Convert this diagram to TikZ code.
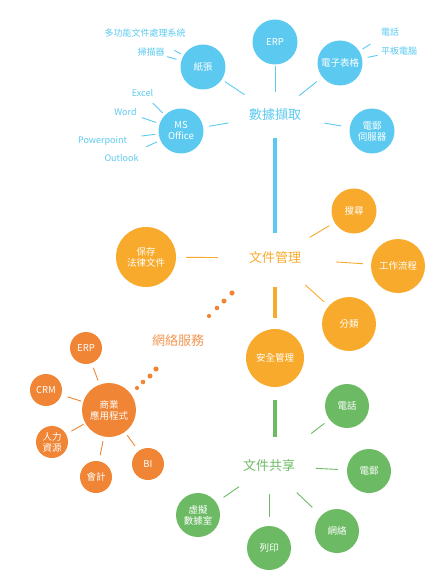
\documentclass[tikz,border=0pt]{standalone}
\usepackage{fontspec}
\setmainfont{Noto Sans CJK TC}
\definecolor{cb}{HTML}{5CCAF0}
\definecolor{co}{HTML}{F8AA2C}
\definecolor{cd}{HTML}{EF8535}
\definecolor{cg}{HTML}{6CBB64}
\begin{document}
\begin{tikzpicture}[x=1pt,y=-1pt,
  circ/.style={circle,inner sep=0pt,text=white,align=center,font=\fontsize{9.5}{11}\selectfont},
  bc/.style={circ,fill=cb,minimum size=45pt},
  oc/.style={circ,fill=co},
  dc/.style={circ,fill=cd},
  gc/.style={circ,fill=cg,minimum size=44pt},
  hub/.style={inner sep=0pt,font=\fontsize{13}{14}\selectfont},
  lab/.style={inner sep=0pt,text=cb,font=\fontsize{9}{10}\selectfont},
  bl/.style={draw=cb,line width=0.9pt},
  ol/.style={draw=co,line width=0.9pt},
  dl/.style={draw=cd,line width=0.9pt},
  gl/.style={draw=cg,line width=0.9pt},
  bar/.style={line width=4pt}]
\useasboundingbox (0,0) rectangle (431,575);
% ---------- blue ----------
\node[hub,text=cb] (dh) at (275,115) {數據擷取};
\node[bc] (erp1) at (275,42) {ERP};
\node[bc] (zz) at (203,67) {紙張};
\node[bc] (ms) at (181,131) {MS\\Office};
\node[bc] (dz) at (340,63) {電子表格};
\node[bc] (dy) at (372,131) {電郵\\伺服器};
\node[lab] (l1) at (145,33) {多功能文件處理系統};
\node[lab] (l2) at (151,52) {掃描器};
\node[lab] (l3) at (142.5,93) {Excel};
\node[lab] (l4) at (125.5,112) {Word};
\node[lab] (l5) at (102.5,141) {Powerpoint};
\node[lab] (l6) at (121.5,158) {Outlook};
\node[lab] (l7) at (390,32) {電話};
\node[lab] (l8) at (399,51) {平板電腦};
\draw[bl,shorten <=1pt,shorten >=23pt] (erp1) -- (dh.center);
\draw[bl,shorten <=3.6pt,shorten >=36.7pt] (zz) -- (dh.center);
\draw[bl,shorten <=5.7pt,shorten >=47pt] (ms) -- (dh.center);
\draw[bl,shorten <=7pt,shorten >=31pt] (dz) -- (dh.center);
\draw[bl,shorten <=8.5pt,shorten >=50pt] (dy) -- (dh.center);
\draw[bl,shorten <=34pt,shorten >=2.8pt] (l1.center) -- (zz);
\draw[bl,shorten <=16.8pt,shorten >=4.9pt] (l2.center) -- (zz);
\draw[bl,shorten <=14.2pt,shorten >=3pt] (l3.center) -- (ms);
\draw[bl,shorten <=17.2pt,shorten >=3.5pt] (l4.center) -- (ms);
\draw[bl,shorten <=39.3pt,shorten >=3.2pt] (l5.center) -- (ms);
\draw[bl,shorten <=26.7pt,shorten >=3.5pt] (l6.center) -- (ms);
\draw[bl,shorten <=23pt,shorten >=3.8pt] (l7.center) -- (dz);
\draw[bl,shorten <=21.9pt,shorten >=5.5pt] (l8.center) -- (dz);
% ---------- orange ----------
\node[hub,text=co] (wm) at (275,258) {文件管理};
\node[oc,minimum size=60pt] (bc1) at (146,257) {保存\\法律文件};
\node[oc,minimum size=45pt] (ss) at (354,211) {搜尋};
\node[oc,minimum size=54pt] (gz) at (398,266) {工作流程};
\node[oc,minimum size=54pt] (fl) at (349,324) {分類};
\node[oc,minimum size=58pt] (aq) at (275,358) {安全管理};
\draw[cb,bar,shorten <=23pt,shorten >=25pt] (dh.center) -- (wm.center);
\draw[ol,shorten <=10pt,shorten >=57pt] (bc1) -- (wm.center);
\draw[ol,shorten <=6pt,shorten >=40.3pt] (ss) -- (wm.center);
\draw[ol,shorten <=8pt,shorten >=61pt] (gz) -- (wm.center);
\draw[ol,shorten <=6pt,shorten >=40.5pt] (fl) -- (wm.center);
\draw[co,bar,shorten <=29pt,shorten >=11pt] (wm.center) -- (aq);
% ---------- dark orange ----------
\node[hub,text=cd!85!white] (wf) at (178,341) {網絡服務};
\fill[cd] (232,293) circle (2.6) (224,301) circle (2.5) (217,308) circle (2.3) (209,316) circle (2.1);
\fill[cd] (156,369) circle (2.6) (150,376) circle (2.5) (143,382) circle (2.3) (137,388) circle (2.1);
\node[dc,minimum size=54pt] (sy) at (109,410) {商業\\應用程式};
\node[dc,minimum size=32pt] (erp2) at (86,348) {ERP};
\node[dc,minimum size=32pt] (crm) at (46,390) {CRM};
\node[dc,minimum size=32pt] (rl) at (52,442) {人力\\資源};
\node[dc,minimum size=32pt] (kj) at (96,477) {會計};
\node[dc,minimum size=32pt] (bi) at (148,464) {BI};
\draw[dl,shorten <=5pt,shorten >=4.4pt] (erp2) -- (sy);
\draw[dl,shorten <=6.4pt,shorten >=2pt] (crm) -- (sy);
\draw[dl,shorten <=6pt,shorten >=2pt] (rl) -- (sy);
\draw[dl,shorten <=6.2pt,shorten >=4.6pt] (kj) -- (sy);
\draw[dl,shorten <=6pt,shorten >=4pt] (bi) -- (sy);
% ---------- green ----------
\node[hub,text=cg] (wg) at (269,466) {文件共享};
\node[gc] (dh2) at (347,406) {電話};
\node[gc] (dy2) at (369,471) {電郵};
\node[gc] (wl) at (337,531) {網絡};
\node[gc] (ly) at (269,548) {列印};
\node[gc] (xn) at (198,515) {虛擬\\數據室};
\coordinate (gtop) at (aq |- wg);
\draw[cg,bar,shorten <=13pt,shorten >=29pt] (aq) -- (gtop);
\draw[gl,shorten <=6.3pt,shorten >=53.3pt] (dh2) -- (wg.center);
\draw[gl,shorten <=9pt,shorten >=47pt] (dy2) -- (wg.center);
\draw[gl,shorten <=12pt,shorten >=38.4pt] (wl) -- (wg.center);
\draw[gl,shorten <=9pt,shorten >=28pt] (ly) -- (wg.center);
\draw[gl,shorten <=8.8pt,shorten >=36.4pt] (xn) -- (wg.center);
\end{tikzpicture}
\end{document}
